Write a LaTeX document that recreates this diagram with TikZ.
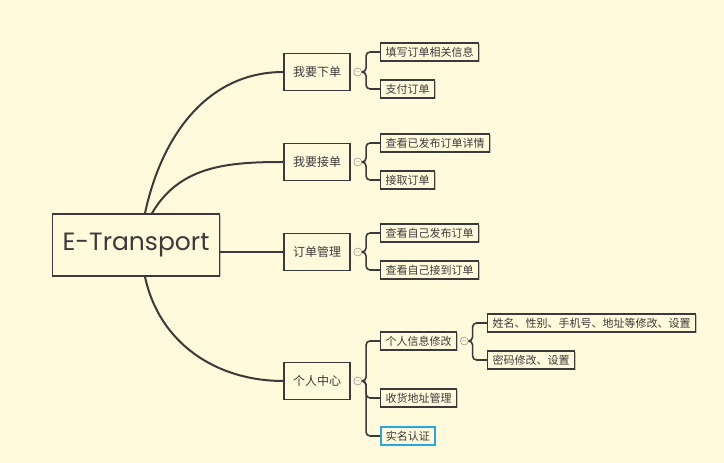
\documentclass[tikz,border=0pt]{standalone}
\usepackage{fontspec}
\usepackage{xcolor}
\usetikzlibrary{positioning,shadows}
\newfontfamily\cjk{Noto Sans CJK SC}
\newfontfamily\rootfont{Poppins}
\definecolor{paper}{HTML}{FFFADC}
\definecolor{ink}{HTML}{3A3A3A}
\definecolor{pickblue}{HTML}{2AA6DF}

\begin{document}
\begin{tikzpicture}[x=1pt, y=1pt,
    root/.style={rectangle, draw=ink, line width=1.4pt, fill=paper, minimum width=167pt, minimum height=62pt, font=\rootfont\fontsize{25}{28}\selectfont, text=ink, drop shadow={shadow xshift=1pt, shadow yshift=-1pt, fill=ink!60}},
    topic/.style={rectangle, draw=ink, line width=1.1pt, fill=paper, minimum width=66pt, minimum height=37pt, font=\cjk\fontsize{12}{14}\selectfont, text=ink, drop shadow={shadow xshift=1pt, shadow yshift=-1pt, fill=ink!60}},
    leaf/.style={rectangle, draw=ink, line width=1.1pt, fill=paper, anchor=west, minimum height=18pt, inner xsep=5pt, inner ysep=0pt, font=\cjk\fontsize{11}{13}\selectfont, text=ink, drop shadow={shadow xshift=1pt, shadow yshift=-1pt, fill=ink!60}},
    fold/.style={circle, draw=ink!60, line width=0.5pt, fill=paper, minimum size=8pt, inner sep=0pt, font=\fontsize{6}{6}\selectfont, text=ink!70},
    link/.style={draw=ink, line width=2pt},
    branch/.style={draw=ink, line width=1.6pt, rounded corners=4pt}
]
\fill[paper] (0,0) rectangle (724,463);
\useasboundingbox (0,0) rectangle (724,463);

% centre
\node[root] (root) at (136,218) {E-Transport};

% main topics
\node[topic] (order)   at (317,391) {我要下单};
\node[topic] (take)    at (317,301) {我要接单};
\node[topic] (manage)  at (317,211) {订单管理};
\node[topic] (center)  at (317,82)  {个人中心};

\node[fold, right=3pt of order]  (forder)  {$-$};
\node[fold, right=3pt of take]   (ftake)   {$-$};
\node[fold, right=3pt of manage] (fmanage) {$-$};
\node[fold, right=3pt of center] (fcenter) {$-$};

% sub topics
\node[leaf] (fill)     at (380,411) {填写订单相关信息};
\node[leaf] (pay)      at (380,374) {支付订单};
\node[leaf] (view)     at (380,320) {查看已发布订单详情};
\node[leaf] (accept)   at (380,283) {接取订单};
\node[leaf] (mypub)    at (380,230) {查看自己发布订单};
\node[leaf] (mytaken)  at (380,193) {查看自己接到订单};
\node[leaf] (info)     at (380,122) {个人信息修改};
\node[leaf] (address)  at (380,65)  {收货地址管理};
\node[leaf, draw=pickblue, line width=1.5pt] (realname) at (380,27) {实名认证};

\node[fold, right=3pt of info] (finfo) {$-$};
\node[leaf] (profile)  at (487,140) {姓名、性别、手机号、地址等修改、设置};
\node[leaf] (password) at (487,103) {密码修改、设置};

% links from centre
\draw[link] ([xshift=9pt]root.north) to[out=78, in=180] (order.west);
\draw[link] ([xshift=16pt]root.north) to[out=60, in=180] (take.west);
\draw[link] (root.east |- manage.west) -- (manage.west);
\draw[link] ([xshift=9pt]root.south) to[out=-78, in=180] (center.west);

% branches
\foreach \f/\c in {forder/fill, forder/pay, ftake/view, ftake/accept,
                   fmanage/mypub, fmanage/mytaken,
                   fcenter/info, fcenter/address, fcenter/realname,
                   finfo/profile, finfo/password}
  \draw[branch] (\f.east) -- ++(4,0) |- (\c.west);
\end{tikzpicture}
\end{document}
